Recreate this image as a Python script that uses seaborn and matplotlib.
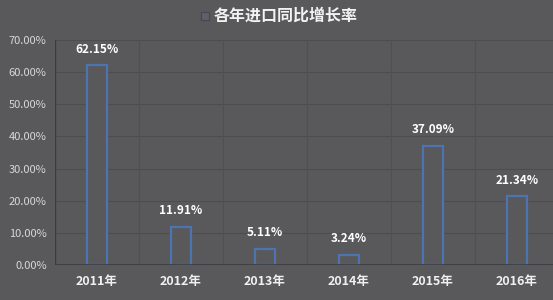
import matplotlib
matplotlib.use("Agg")
import matplotlib.pyplot as plt
from matplotlib.patches import Rectangle
import seaborn as sns
import pandas as pd

categories = ["2011年", "2012年", "2013年", "2014年", "2015年", "2016年"]
values = [62.15, 11.91, 5.11, 3.24, 37.09, 21.34]
yticks = [0, 10, 20, 30, 40, 50, 60, 70]
title = "各年进口同比增长率"

sns.set_style("dark")
plt.rcParams['font.family'] = ['Noto Sans CJK SC', 'DejaVu Sans']

bg = "#59585b"
edge = "#4d74b0"

df = pd.DataFrame({"year": categories, "rate": values})

fig = plt.figure(figsize=(5.53, 3.0), dpi=100, facecolor=bg)
ax = fig.add_axes([55/553, 35/300, 504/553, 225/300])
ax.set_facecolor(bg)

sns.barplot(data=df, x="year", y="rate", ax=ax, width=0.24,
            facecolor=bg, edgecolor=edge, linewidth=1.6)

ax.set_ylim(0, 70)
ax.set_xlim(-0.5, 5.5)
ax.set_yticks(yticks)
ax.set_yticklabels([f"{v:.2f}%" for v in yticks], color="#d8d8d8", fontsize=8)
ax.tick_params(axis="x", colors="#f0f0f0", labelsize=9, length=0, pad=7)
ax.tick_params(axis="y", length=0, pad=6)
for lab in ax.get_xticklabels():
    lab.set_fontweight("bold")
ax.set_xlabel("")
ax.set_ylabel("")

for sp in ax.spines.values():
    sp.set_visible(False)
ax.axhline(0, color="#3c3b3d", lw=1.2)
ax.axvline(-0.5, color="#3c3b3d", lw=1.0)
for v in yticks[1:]:
    ax.axhline(v, color="#4d4c4f", lw=0.8, zorder=0)
for x in [0.5, 1.5, 2.5, 3.5, 4.5]:
    ax.axvline(x, color="#504f52", lw=0.8, zorder=0)
ax.grid(False)

labels = [f"{v:.2f}%" for v in values]
ax.bar_label(ax.containers[0], labels=labels, padding=7, color="#ffffff",
             fontsize=8.5, fontweight="bold")

fig.add_artist(Rectangle((201/553, 1 - 20/300), 8/553, 8/300,
                         transform=fig.transFigure, facecolor="#606168",
                         edgecolor="#464852", lw=0.9, zorder=5))
fig.text(214/553, 0.948, title, color="#f2f2f2", fontsize=11.5, fontweight="bold",
         ha="left", va="center")

fig.savefig("out.png", dpi=100, facecolor=bg)
